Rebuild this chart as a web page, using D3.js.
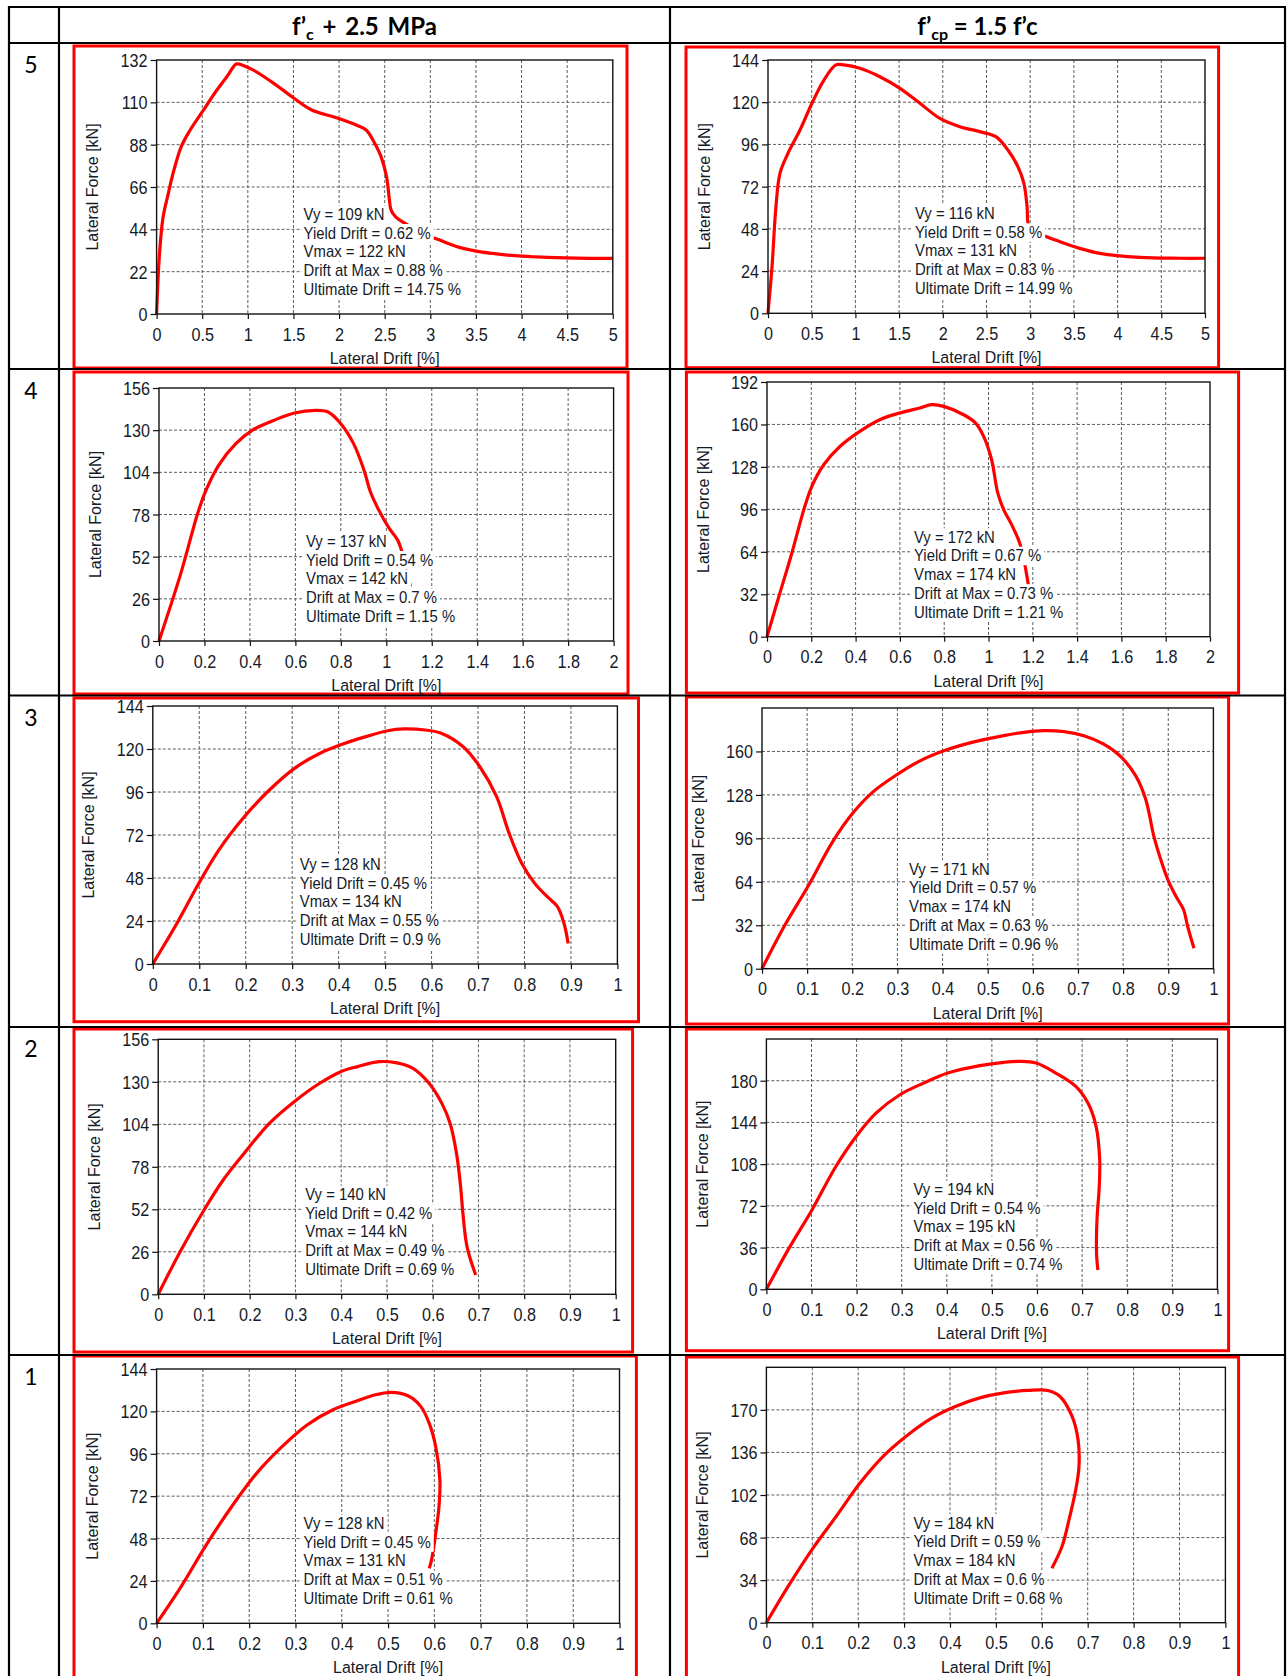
<!DOCTYPE html>
<html><head><meta charset="utf-8">
<script src="https://cdn.jsdelivr.net/npm/d3@7"></script>
<style>body{margin:0;background:#fff}</style>
</head><body><svg id="c" width="1287" height="1676"></svg>
<script>
// ---------- DATA ----------
const rowLabels = ["5", "4", "3", "2", "1"];
const colHeaderLeft = ["f’", "c", " + 2.5 MPa"];
const colHeaderRight = ["f’", "cp", " = 1.5 f’c"];

const xTicksRow5 = [0, 0.5, 1, 1.5, 2, 2.5, 3, 3.5, 4, 4.5, 5];
const xTicksRow4 = [0, 0.2, 0.4, 0.6, 0.8, 1, 1.2, 1.4, 1.6, 1.8, 2];
const xTicksRow321 = [0, 0.1, 0.2, 0.3, 0.4, 0.5, 0.6, 0.7, 0.8, 0.9, 1];

const yTicks5L = [0, 22, 44, 66, 88, 110, 132];
const yTicks5R = [0, 24, 48, 72, 96, 120, 144];
const yTicks4L = [0, 26, 52, 78, 104, 130, 156];
const yTicks4R = [0, 32, 64, 96, 128, 160, 192];
const yTicks3L = [0, 24, 48, 72, 96, 120, 144];
const yTicks3R = [0, 32, 64, 96, 128, 160];
const yTicks2L = [0, 26, 52, 78, 104, 130, 156];
const yTicks2R = [0, 36, 72, 108, 144, 180];
const yTicks1L = [0, 24, 48, 72, 96, 120, 144];
const yTicks1R = [0, 34, 68, 102, 136, 170];
const yMaxes = {"5L": 132, "5R": 144, "4L": 156, "4R": 192, "3L": 144, "3R": 192, "2L": 156, "2R": 216, "1L": 144, "1R": 204};

// [lateral drift %, lateral force kN]
const curve5L = [[0,0],[0.03,30],[0.07,50],[0.13,63],[0.18,73],[0.27,87],[0.36,95],[0.5,105],[0.64,115],[0.78,124],[0.85,129],[0.88,130],[1.05,127],[1.28,120],[1.51,112],[1.7,106],[1.97,102],[2.2,98],[2.3,95.5],[2.39,88.7],[2.46,81.8],[2.52,71.4],[2.55,60],[2.57,54],[2.62,50.5],[2.71,47.5],[2.9,42],[3.08,38.8],[3.36,34.1],[3.82,30.7],[4.28,29.4],[4.74,28.9],[5,28.9]];
const curve5R = [[0,0],[0.046,26.5],[0.091,60.6],[0.137,79.6],[0.229,91],[0.366,104.2],[0.503,119.4],[0.64,132.6],[0.778,141.2],[0.869,141.2],[1.052,139.3],[1.28,134.5],[1.51,127.9],[1.738,119.4],[1.967,110.8],[2.196,106.1],[2.42,103.3],[2.607,100.4],[2.745,92.8],[2.859,83.4],[2.928,73.9],[2.964,60.6],[2.973,52],[3.0,48],[3.088,45.5],[3.34,40.7],[3.568,36.9],[3.797,34.1],[4.254,31.8],[4.712,31.3],[5,31.3]];
const curve4L = [[0,0],[0.096,41.7],[0.17,78.6],[0.207,93],[0.263,108.5],[0.337,121.5],[0.411,130],[0.504,136],[0.596,140.6],[0.689,142.2],[0.744,141.2],[0.8,134],[0.856,121.7],[0.902,105.3],[0.93,92],[0.967,80.7],[1.013,69.4],[1.05,62.2],[1.069,55],[1.09,44],[1.106,33.5]];
const curve4R = [[0,0],[0.058,32.7],[0.112,62.9],[0.166,95.6],[0.202,113.2],[0.256,129.6],[0.329,143.4],[0.419,154.8],[0.509,163.6],[0.599,168.6],[0.69,172.4],[0.744,174.9],[0.798,173.6],[0.888,167.3],[0.942,161],[0.978,151],[1.014,133.4],[1.042,108.2],[1.069,95.6],[1.105,84.3],[1.141,70.5],[1.16,58],[1.175,44],[1.186,32.7]];
const curve3L = [[0,0],[0.052,22.7],[0.097,44.1],[0.142,63.6],[0.197,82.2],[0.251,97.1],[0.305,109.2],[0.36,117.6],[0.414,123.2],[0.459,126.9],[0.505,130.2],[0.541,131.2],[0.586,130.6],[0.622,128.7],[0.668,121.3],[0.704,110.1],[0.74,93.4],[0.767,72.9],[0.794,56.2],[0.822,45],[0.849,37.6],[0.871,32],[0.885,22.7],[0.894,11.5]];
const curve3R = [[0,0],[0.049,31.1],[0.102,60.7],[0.155,92.7],[0.199,113.7],[0.244,129.7],[0.297,142.5],[0.35,153.1],[0.403,160.5],[0.465,166.7],[0.527,171.1],[0.58,174.1],[0.624,175.3],[0.669,174.6],[0.713,171.6],[0.757,165.4],[0.793,156.8],[0.828,142],[0.85,124.8],[0.868,97.6],[0.881,82.8],[0.899,65.6],[0.917,53.3],[0.934,43.4],[0.943,31.1],[0.957,15]];
const curve2L = [[0,0],[0.05,27.1],[0.096,49.6],[0.142,69.9],[0.188,86.3],[0.243,104.6],[0.298,118],[0.353,129.1],[0.399,136.2],[0.436,139.3],[0.482,142.3],[0.519,141.7],[0.556,138.3],[0.592,129.1],[0.62,116.8],[0.638,104.6],[0.652,86.3],[0.661,65.9],[0.666,49.6],[0.675,29.2],[0.694,11.8]];
const curve2R = [[0,0],[0.048,34],[0.101,68.5],[0.154,106],[0.199,131.9],[0.243,152],[0.296,167.9],[0.349,178],[0.402,186.6],[0.473,193],[0.527,195.9],[0.562,196.7],[0.598,195.3],[0.642,186.6],[0.686,175.1],[0.713,160.7],[0.731,140.6],[0.739,111.8],[0.738,88.7],[0.733,59.9],[0.732,31.1],[0.735,16.7]];
const curve1L = [[0,0],[0.053,20.8],[0.107,44.3],[0.162,66],[0.216,84.9],[0.271,100],[0.325,112.3],[0.38,120.8],[0.435,126.1],[0.471,129.3],[0.507,130.8],[0.544,128.7],[0.571,122.7],[0.589,113.2],[0.603,100],[0.612,81.1],[0.61,66],[0.603,51],[0.594,35.9],[0.589,31.1]];
const curve1R = [[0,0],[0.047,28.8],[0.099,58.2],[0.152,84.9],[0.204,111.6],[0.256,133.5],[0.308,150],[0.361,163.6],[0.413,172.9],[0.465,179.6],[0.517,183.6],[0.57,185.5],[0.613,185.5],[0.639,180.9],[0.666,164.9],[0.679,146.2],[0.681,124.9],[0.674,106.2],[0.661,84.9],[0.644,60.8],[0.622,43.5]];

const notes5L = ["Vy = 109 kN", "Yield Drift = 0.62 %", "Vmax = 122 kN", "Drift at Max = 0.88 %", "Ultimate Drift = 14.75 %"];
const notes5R = ["Vy = 116 kN", "Yield Drift = 0.58 %", "Vmax = 131 kN", "Drift at Max = 0.83 %", "Ultimate Drift = 14.99 %"];
const notes4L = ["Vy = 137 kN", "Yield Drift = 0.54 %", "Vmax = 142 kN", "Drift at Max = 0.7 %", "Ultimate Drift = 1.15 %"];
const notes4R = ["Vy = 172 kN", "Yield Drift = 0.67 %", "Vmax = 174 kN", "Drift at Max = 0.73 %", "Ultimate Drift = 1.21 %"];
const notes3L = ["Vy = 128 kN", "Yield Drift = 0.45 %", "Vmax = 134 kN", "Drift at Max = 0.55 %", "Ultimate Drift = 0.9 %"];
const notes3R = ["Vy = 171 kN", "Yield Drift = 0.57 %", "Vmax = 174 kN", "Drift at Max = 0.63 %", "Ultimate Drift = 0.96 %"];
const notes2L = ["Vy = 140 kN", "Yield Drift = 0.42 %", "Vmax = 144 kN", "Drift at Max = 0.49 %", "Ultimate Drift = 0.69 %"];
const notes2R = ["Vy = 194 kN", "Yield Drift = 0.54 %", "Vmax = 195 kN", "Drift at Max = 0.56 %", "Ultimate Drift = 0.74 %"];
const notes1L = ["Vy = 128 kN", "Yield Drift = 0.45 %", "Vmax = 131 kN", "Drift at Max = 0.51 %", "Ultimate Drift = 0.61 %"];
const notes1R = ["Vy = 184 kN", "Yield Drift = 0.59 %", "Vmax = 184 kN", "Drift at Max = 0.6 %", "Ultimate Drift = 0.68 %"];

const xLabel = "Lateral Drift [%]";
const yLabel = "Lateral Force [kN]";

// ---------- LAYOUT ----------
const panels = [
  {id:"5L", frame:[74,46,627,368],        plot:[156.6,60,612.8,314],     xTicks:xTicksRow5,   yTicks:yTicks5L, curve:curve5L, notes:notes5L},
  {id:"5R", frame:[686,47,1218.6,367.7],  plot:[768,60,1205,313.3],      xTicks:xTicksRow5,   yTicks:yTicks5R, curve:curve5R, notes:notes5R},
  {id:"4L", frame:[74,372,628,694],       plot:[159,388,613.6,641],      xTicks:xTicksRow4,   yTicks:yTicks4L, curve:curve4L, notes:notes4L},
  {id:"4R", frame:[686.4,372,1238.6,693], plot:[767,382,1210,636.7],     xTicks:xTicksRow4,   yTicks:yTicks4R, curve:curve4R, notes:notes4R},
  {id:"3L", frame:[74,698,638.5,1021.7],  plot:[152.8,706,617.4,964],    xTicks:xTicksRow321, yTicks:yTicks3L, curve:curve3L, notes:notes3L},
  {id:"3R", frame:[686.4,697,1228.6,1024],plot:[762,708,1213.4,968.7],   xTicks:xTicksRow321, yTicks:yTicks3R, curve:curve3R, notes:notes3R},
  {id:"2L", frame:[74,1029,632.6,1352],   plot:[158.2,1039.3,615.7,1294.3], xTicks:xTicksRow321, yTicks:yTicks2L, curve:curve2L, notes:notes2L},
  {id:"2R", frame:[686.4,1029,1228.6,1350.7], plot:[766.4,1039,1217.4,1289.3], xTicks:xTicksRow321, yTicks:yTicks2R, curve:curve2R, notes:notes2R},
  {id:"1L", frame:[74,1356,636.4,1692],   plot:[156.6,1369,619.5,1623.3], xTicks:xTicksRow321, yTicks:yTicks1L, curve:curve1L, notes:notes1L},
  {id:"1R", frame:[686.4,1357,1238.6,1692], plot:[766.4,1367.3,1225.4,1622.7], xTicks:xTicksRow321, yTicks:yTicks1R, curve:curve1R, notes:notes1R}
];

const svg = d3.select("#c");
svg.append("rect").attr("width",1287).attr("height",1676).attr("fill","#fff");

const CHART_FONT = "'Liberation Sans', Arial, sans-serif";
const TXT = "#141a28";

function scaledText(g, x, y, str, size, sx, anchor) {
  return g.append("text")
    .attr("transform", `translate(${x},${y}) scale(${sx},1)`)
    .attr("font-family", CHART_FONT).attr("font-size", size)
    .attr("fill", TXT).attr("text-anchor", anchor || "start").text(str);
}

function drawPanel(p) {
  const g = svg.append("g");
  const [fx0, fy0, fx1, fy1] = p.frame;
  const [px0, py0, px1, py1] = p.plot;
  g.append("rect").attr("x", fx0).attr("y", fy0).attr("width", fx1 - fx0).attr("height", fy1 - fy0)
    .attr("fill", "#fff").attr("stroke", "#ff0000").attr("stroke-width", 3);

  const xMax = p.xTicks[p.xTicks.length - 1];
  const yMax = yMaxes[p.id];
  const x = d3.scaleLinear().domain([0, xMax]).range([px0, px1]);
  const y = d3.scaleLinear().domain([0, yMax]).range([py1, py0]);

  const grid = g.append("g").attr("stroke", "#5e5e5e").attr("stroke-width", 1).attr("stroke-dasharray", "3,2");
  grid.selectAll(".gx").data(p.xTicks.filter(v => v > 0 && v < xMax)).join("line")
    .attr("x1", d => x(d)).attr("x2", d => x(d)).attr("y1", py0).attr("y2", py1);
  grid.selectAll(".gy").data(p.yTicks.filter(v => v > 0 && v < yMax)).join("line")
    .attr("y1", d => y(d)).attr("y2", d => y(d)).attr("x1", px0).attr("x2", px1);

  const line = d3.line().x(d => x(d[0])).y(d => y(d[1])).curve(d3.curveCatmullRom.alpha(0.5));
  g.append("path").datum(p.curve).attr("d", line).attr("fill", "none")
    .attr("stroke", "#ff0000").attr("stroke-width", 3.2).attr("stroke-linejoin", "round").attr("stroke-linecap", "butt");

  // annotation block with opaque line backgrounds
  const offs = [94, 75.5, 57, 38, 19];
  const ax = px0 + 147;
  const ng = g.append("g");
  p.notes.forEach((s, i) => {
    const by = py1 - offs[i];
    const r = ng.append("rect").attr("fill", "#fff");
    const t = scaledText(ng, ax, by, s, 16, 0.93);
    const w = t.node().getComputedTextLength() * 0.93;
    r.attr("x", ax - 2).attr("y", by - 14.5).attr("width", w + 5).attr("height", 18.5);
  });

  // plot frame
  g.append("rect").attr("x", px0).attr("y", py0).attr("width", px1 - px0).attr("height", py1 - py0)
    .attr("fill", "none").attr("stroke", "#111").attr("stroke-width", 1.4);

  // axes
  const yAx = g.append("g").attr("transform", `translate(${px0},0)`)
    .call(d3.axisLeft(y).tickValues(p.yTicks).tickSize(6).tickSizeOuter(0).tickFormat(d3.format("~g")));
  const xAx = g.append("g").attr("transform", `translate(0,${py1})`)
    .call(d3.axisBottom(x).tickValues(p.xTicks).tickSize(5).tickSizeOuter(0).tickFormat(d3.format("~g")));
  [yAx, xAx].forEach(a => {
    a.select(".domain").remove();
    a.selectAll(".tick line").attr("stroke", "#111").attr("stroke-width", 1.2);
    a.attr("font-family", CHART_FONT).attr("font-size", 18);
    a.selectAll(".tick text").attr("fill", TXT);
  });
  yAx.selectAll(".tick text").attr("x", null).attr("dy", null)
    .attr("transform", "translate(-9,6.5) scale(0.9,1)").attr("text-anchor", "end");
  xAx.selectAll(".tick text").attr("y", null).attr("dy", null)
    .attr("transform", "translate(0,26.5) scale(0.9,1)").attr("text-anchor", "middle");

  scaledText(g, (px0 + px1) / 2, py1 + 50, xLabel, 17, 0.94, "middle");
  g.append("text").attr("transform", `translate(${px0 - 64},${(py0 + py1) / 2}) rotate(-90)`)
    .attr("font-family", CHART_FONT).attr("font-size", 16).attr("fill", TXT)
    .attr("text-anchor", "middle").attr("dominant-baseline", "central").text(yLabel);
}

panels.forEach(drawPanel);

// ---------- TABLE ----------
const tbl = svg.append("g").attr("stroke", "#000").attr("stroke-width", 2.2);
const vLines = [9, 59, 670, 1285];
const hLines = [7, 43, 369, 695.5, 1027, 1355];
vLines.forEach(vx => tbl.append("line").attr("x1", vx).attr("x2", vx).attr("y1", 6).attr("y2", 1676));
hLines.forEach(hy => tbl.append("line").attr("x1", 8).attr("x2", 1286).attr("y1", hy).attr("y2", hy));

const HF = "Lato, 'Open Sans', sans-serif";
function header(cx, parts, ws) {
  const t = svg.append("text").attr("x", cx).attr("y", 35).attr("text-anchor", "middle")
    .attr("font-family", HF).attr("font-weight", "bold").attr("font-size", 24).attr("fill", "#000")
    .attr("word-spacing", ws);
  t.append("tspan").text(parts[0]);
  t.append("tspan").attr("dy", 5).attr("font-size", 16).text(parts[1]);
  t.append("tspan").attr("dy", -5).text(parts[2]);
}
header(364.5, colHeaderLeft, 3);
header(977.5, colHeaderRight, 0);

const rowTops = [43, 369, 695.5, 1027, 1355];
rowLabels.forEach((s, i) => {
  svg.append("text").attr("x", 31).attr("y", rowTops[i] + 30).attr("text-anchor", "middle")
    .attr("font-family", HF).attr("font-size", 23).attr("fill", "#000").text(s);
});
</script>
</body></html>
